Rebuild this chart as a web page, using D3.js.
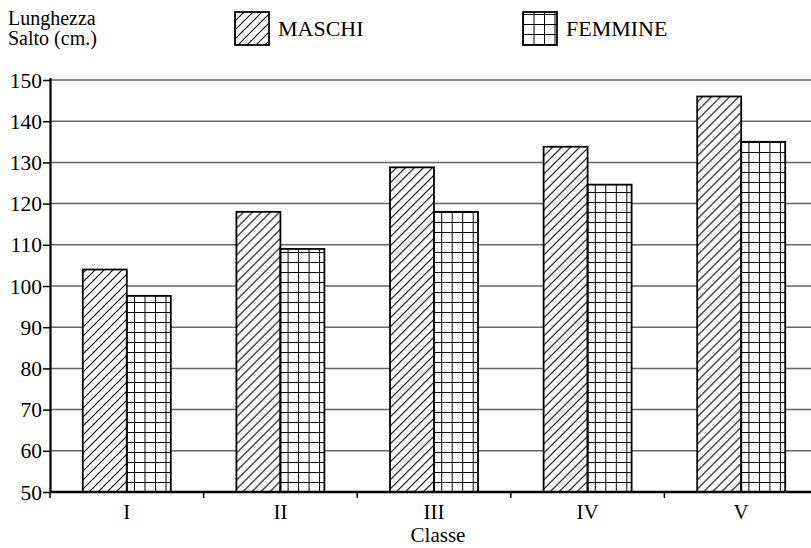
<!DOCTYPE html>
<html>
<head>
<meta charset="utf-8">
<script src="https://cdn.jsdelivr.net/npm/d3@7/dist/d3.min.js"></script>
<style>
  html, body { margin: 0; padding: 0; background: #fff; }
  svg { display: block; }
  text { font-family: "Liberation Serif", "Times New Roman", serif; fill: #000; }
</style>
</head>
<body>
<svg id="chart" width="811" height="548"></svg>
<script>
// Salto in lungo: media per classe
const classi = ["I", "II", "III", "IV", "V"];
const serie = ["MASCHI", "FEMMINE"];
const maschi = [104, 118, 128.8, 133.8, 146];
const femmine = [97.6, 109, 118, 124.6, 135];
const yTicks = [50, 60, 70, 80, 90, 100, 110, 120, 130, 140, 150];

const svg = d3.select("#chart");
const W = 811, H = 548;
const plotLeft = 50, plotTop = 80, plotBottom = 492;
const step = 153.6;
const FONT = "Liberation Serif";

const x = d3.scaleBand().domain(classi).range([plotLeft, plotLeft + step * classi.length]).padding(0);
const barW = 44;
const xs = d3.scaleBand().domain(serie).range([0, x.bandwidth()])
  .paddingInner(0).paddingOuter((x.bandwidth() - 2 * barW) / 2 / barW);
const y = d3.scaleLinear().domain([50, 150]).range([plotBottom, plotTop]);

// fill patterns
const defs = svg.append("defs");
const h = defs.append("pattern").attr("id", "hatch").attr("patternUnits", "userSpaceOnUse")
  .attr("width", 9).attr("height", 9);
h.append("path").attr("d", "M-1,1 L1,-1 M0,9 L9,0 M8,10 L10,8")
  .attr("stroke", "#000").attr("stroke-width", 1.1);
const g = defs.append("pattern").attr("id", "grid").attr("patternUnits", "userSpaceOnUse")
  .attr("width", 10.5).attr("height", 10).attr("y", 2).attr("x", 0);
g.append("path").attr("d", "M0,0 L10.5,0 M0,0 L0,10")
  .attr("stroke", "#000").attr("stroke-width", 2).attr("fill", "none");

const fills = { MASCHI: "url(#hatch)", FEMMINE: "url(#grid)" };

// horizontal gridlines
svg.append("g").selectAll("line").data(yTicks.filter(d => d > 50)).join("line")
  .attr("x1", plotLeft).attr("x2", W)
  .attr("y1", d => y(d)).attr("y2", d => y(d))
  .attr("stroke", "#666").attr("stroke-width", 1.5);

// bars
const rows = classi.map((c, i) => ({ c, MASCHI: maschi[i], FEMMINE: femmine[i] }));
const grp = svg.append("g").selectAll("g").data(rows).join("g")
  .attr("transform", d => `translate(${x(d.c)},0)`);
grp.selectAll("rect.bg").data(d => serie.map(s => ({ s, v: d[s] }))).join("rect")
  .attr("class", "bg")
  .attr("x", d => xs(d.s)).attr("width", xs.bandwidth())
  .attr("y", d => y(d.v)).attr("height", d => y(50) - y(d.v))
  .attr("fill", "#fff");
grp.selectAll("rect.p").data(d => serie.map(s => ({ s, v: d[s] }))).join("rect")
  .attr("class", "p")
  .attr("x", d => xs(d.s)).attr("width", xs.bandwidth())
  .attr("y", d => y(d.v)).attr("height", d => y(50) - y(d.v))
  .attr("fill", d => fills[d.s]).attr("stroke", "#000").attr("stroke-width", 1.8);

// y axis
const yAxis = svg.append("g").attr("transform", `translate(${plotLeft},0)`)
  .call(d3.axisLeft(y).tickValues(yTicks).tickSize(7).tickPadding(1).tickFormat(d3.format("d")));
yAxis.select(".domain").attr("d", `M0.5,${plotTop - 2}V${plotBottom}`).attr("stroke", "#000").attr("stroke-width", 2.2);
yAxis.selectAll(".tick line").attr("stroke", "#000").attr("stroke-width", 1.5);
yAxis.selectAll(".tick text").style("font-family", FONT).style("font-size", "21.5px").attr("dy", "0.33em");

// x axis
const xAxis = svg.append("g").attr("transform", `translate(0,${plotBottom})`)
  .call(d3.axisBottom(x).tickSize(0).tickPadding(0));
xAxis.select(".domain").attr("d", `M${plotLeft},0H${W}`).attr("stroke", "#000").attr("stroke-width", 2.5);
xAxis.selectAll(".tick text").style("font-family", FONT).style("font-size", "21px")
  .attr("y", 27).attr("dy", 0);
// category separators
const seps = classi.map(c => x(c)).concat([x("V") + step]);
xAxis.append("g").selectAll("line").data(seps).join("line")
  .attr("x1", d => d).attr("x2", d => d).attr("y1", 0).attr("y2", 6)
  .attr("stroke", "#000").attr("stroke-width", 1.5);

svg.append("text").attr("x", x("III") + x.bandwidth() / 2 + 4).attr("y", 542)
  .attr("text-anchor", "middle").style("font-size", "21px").text("Classe");

// y title
const yt = svg.append("text").style("font-size", "20px");
yt.append("tspan").attr("x", 8).attr("y", 25).text("Lunghezza");
yt.append("tspan").attr("x", 8).attr("y", 45).text("Salto (cm.)");

// legend
const legendX = [235, 523];
serie.forEach((s, i) => {
  const lg = svg.append("g").attr("transform", `translate(${legendX[i]},12)`);
  lg.append("rect").attr("width", 34).attr("height", 33).attr("fill", "#fff");
  lg.append("rect").attr("width", 34).attr("height", 33).attr("fill", fills[s])
    .attr("stroke", "#000").attr("stroke-width", 1.8);
  lg.append("text").attr("x", 43).attr("y", 23.5).style("font-size", "22px").text(s);
});
</script>
</body>
</html>
